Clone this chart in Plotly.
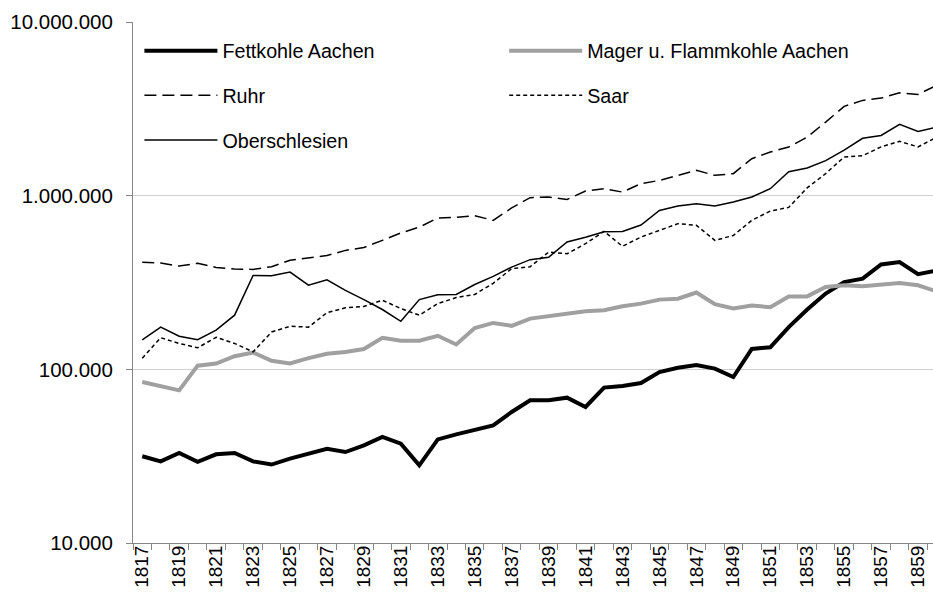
import plotly.graph_objects as go

years = list(range(1817, 1861))

fettkohle_aachen = [31600, 29500, 33000, 29300, 32400, 33000, 29500, 28300, 30600, 32700,
                    34900, 33400, 36500, 40800, 37300, 28000, 39500, 42200, 44600, 47600,
                    56800, 66300, 66300, 68700, 60700, 78500, 80200, 83400, 96500, 102000,
                    106000, 101000, 90300, 131000, 134000, 175000, 221000, 273000, 318000, 333000,
                    402000, 415000, 353000, 370000]
mager_aachen = [84500, 79800, 75700, 105000, 108000, 119000, 125000, 112000, 108000, 116000,
                123000, 126000, 131000, 152000, 146000, 146000, 156000, 139000, 173000, 185000,
                178000, 196000, 202000, 211000, 216000, 219000, 231000, 239000, 252000, 255000,
                277000, 237000, 224000, 233000, 228000, 263000, 263000, 298000, 305000, 301000,
                308000, 314000, 305000, 281000]
ruhr = [413000, 409000, 393000, 408000, 386000, 378000, 376000, 390000, 425000, 440000,
        452000, 484000, 503000, 553000, 610000, 659000, 743000, 750000, 767000, 721000,
        850000, 974000, 982000, 952000, 1063000, 1097000, 1049000, 1173000, 1224000, 1309000,
        1400000, 1309000, 1339000, 1633000, 1783000, 1905000, 2175000, 2653000, 3267000, 3537000,
        3646000, 3910000, 3830000, 4315000]
saar = [116000, 152000, 141000, 133000, 153000, 141000, 126000, 164000, 177000, 175000,
        212000, 226000, 230000, 250000, 224000, 205000, 239000, 259000, 270000, 313000,
        380000, 390000, 473000, 463000, 529000, 623000, 511000, 578000, 631000, 690000,
        675000, 553000, 590000, 721000, 815000, 856000, 1110000, 1340000, 1670000, 1700000,
        1910000, 2055000, 1910000, 2170000]
oberschlesien = [148000, 175000, 155000, 148000, 168000, 205000, 347000, 346000, 363000, 305000,
                 328000, 285000, 252000, 221000, 189000, 252000, 269000, 270000, 308000, 343000,
                 388000, 428000, 442000, 541000, 576000, 620000, 622000, 678000, 822000, 871000,
                 899000, 871000, 919000, 982000, 1097000, 1375000, 1442000, 1590000, 1830000, 2140000,
                 2222000, 2572000, 2343000, 2480000]

x_tick_years = list(range(1817, 1860, 2))
y_tick_vals = [10000, 100000, 1000000, 10000000]
y_tick_text = ["10.000", "100.000", "1.000.000", "10.000.000"]

FONT = "Liberation Sans, Arial, sans-serif"
AXIS_GREY = "#868686"

series = [
    ("Fettkohle Aachen", fettkohle_aachen, dict(color="black", width=4), "legend"),
    ("Mager u. Flammkohle Aachen", mager_aachen, dict(color="#a0a0a0", width=4), "legend2"),
    ("Ruhr", ruhr, dict(color="black", width=1.5, dash="12px,6px"), "legend"),
    ("Saar", saar, dict(color="black", width=1.5, dash="4px,3px"), "legend2"),
    ("Oberschlesien", oberschlesien, dict(color="black", width=1.5), "legend"),
]

fig = go.Figure()
for name, values, line, legend in series:
    fig.add_trace(go.Scatter(x=years, y=values, name=name, mode="lines", line=line,
                             legend=legend, legendgroup=name))

legend_style = dict(
    bgcolor="rgba(0,0,0,0)",
    font=dict(family=FONT, size=19.7, color="black"),
    itemwidth=73,
    tracegroupgap=16,
    xanchor="left",
    yanchor="top",
)

fig.update_layout(
    width=933,
    height=604,
    margin=dict(l=133, r=0, t=22, b=61),
    paper_bgcolor="white",
    plot_bgcolor="white",
    font=dict(family=FONT, color="black"),
    showlegend=True,
    legend=dict(x=0.008, y=0.982, **legend_style),
    legend2=dict(x=0.464, y=0.982, **legend_style),
    xaxis=dict(
        range=[1816.5, 1859.81],
        tickmode="array",
        tickvals=x_tick_years,
        ticktext=[str(y) for y in x_tick_years],
        tickangle=-90,
        ticks="",
        tickfont=dict(size=19),
        ticklabelstandoff=-6,
        automargin=False,
        showgrid=False,
        zeroline=False,
        showline=True,
        linecolor=AXIS_GREY,
        linewidth=1,
        minor=dict(tickvals=[y - 0.5 for y in years], ticks="outside", ticklen=6,
                   tickcolor=AXIS_GREY, showgrid=False),
    ),
    yaxis=dict(
        type="log",
        range=[4, 7],
        tickmode="array",
        tickvals=y_tick_vals,
        ticktext=y_tick_text,
        ticks="outside",
        ticklen=6,
        tickcolor=AXIS_GREY,
        tickfont=dict(size=20.5),
        ticklabelstandoff=9,
        automargin=False,
        showgrid=True,
        gridcolor="#cfcfcf",
        gridwidth=1,
        showline=True,
        linecolor=AXIS_GREY,
        linewidth=1,
        zeroline=False,
    ),
)

# the page's default body margin would push the chart 8px right and down
fig.write_html("out.html", config={"displayModeBar": False},
               post_script="document.body.style.margin = '0';")
